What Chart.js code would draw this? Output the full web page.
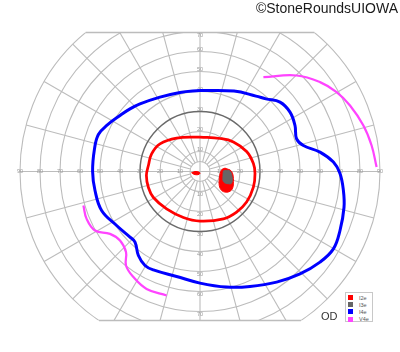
<!DOCTYPE html>
<html lang="en">
<head>
    <meta charset="UTF-8">
    <title>Goldmann visual field OD</title>
    <script src="https://cdn.jsdelivr.net/npm/chart.js@4.4.0/dist/chart.umd.min.js"></script>
    <style>
        * {
            margin: 0;
            padding: 0;
            box-sizing: border-box;
        }

        body {
            width: 400px;
            height: 352px;
            background: #fff;
            overflow: hidden;
            font-family: Arial, "Liberation Sans", sans-serif;
        }

        .wrap {
            position: relative;
            width: 400px;
            height: 352px;
        }

        .credit {
            position: absolute;
            right: 2px;
            top: 0px;
            font-size: 14px;
            line-height: 17px;
            color: #1a1a1a;
            white-space: nowrap;
        }

        .eye {
            position: absolute;
            left: 321px;
            top: 310px;
            font-size: 11px;
            line-height: 13px;
            color: #333;
        }

        /* Legend box */
        .legend {
            position: absolute;
            left: 345px;
            top: 292px;
            width: 28px;
            height: 30px;
            border: 1px solid #c8c8c8;
            background: #fff;
            padding: 1px 0 0 2px;
        }

        .legend-row {
            display: flex;
            align-items: center;
            height: 7.2px;
        }

        .legend-swatch {
            width: 5px;
            height: 5px;
            margin-right: 6px;
        }

        .legend-label {
            font-size: 5.5px;
            line-height: 6px;
            color: #555;
        }
    </style>
</head>
<body>
    <div class="wrap">
        <canvas id="fieldChart" width="400" height="352"></canvas>
        <div class="credit">©StoneRoundsUIOWA</div>
        <div class="eye">OD</div>
        <div class="legend" id="legend"></div>
    </div>

    <script>
        // Grid / tick values (degrees of visual field)
        const ringDegrees = [5, 10, 20, 30, 40, 50, 60, 70, 80, 90];
        const spokeAngles = [0, 15, 30, 45, 60, 75, 90, 105, 120, 135, 150, 165, 180, 195, 210, 225, 240, 255, 270, 285, 300, 315, 330, 345];
        const horizontalTicks = [10, 20, 30, 40, 50, 60, 70, 80, 90];
        const verticalTicks = [10, 20, 30, 40, 50, 60, 70];
        const fieldTop = 69.5;
        const fieldBottom = -74.5;

        // Isopters, [x, y] in degrees
        const i4eIsopter = [
            [0, 40.5], [17, 40.2], [28, 37.7], [33, 36.3], [40, 34.7], [45, 29.7], [47.5, 23],
            [48.3, 16.3], [51.7, 13], [60, 9.7], [66.7, 4.7], [70, -1], [71.7, -9.5], [72, -18],
            [70, -29.5], [66.7, -38.7], [60, -45.3], [50, -51.2], [38.3, -55.3], [25, -57.5],
            [13.3, -57.8], [0, -55.8], [-11.7, -52.5], [-23.3, -49.2], [-27.5, -47], [-30.8, -42],
            [-32.5, -35.3], [-35, -32.8], [-41.7, -27], [-49.2, -19.5], [-52.5, -9.5], [-53.7, 0],
            [-52.8, 11], [-50.8, 18.5], [-46.3, 23.3], [-40, 28], [-35, 31.3], [-30, 33.8],
            [-20, 37.2], [-10, 39.5], [0, 40.5]
        ];
        const i2eIsopter = [
            [0, 17.2], [10, 16.5], [16.7, 14.8], [23.3, 10], [26.7, 4], [27.5, -1], [26.7, -7.8],
            [23.3, -15.3], [18.3, -20.3], [11.7, -23.7], [0, -24.8], [-8.3, -23], [-16.7, -18.7],
            [-23.3, -13], [-25.8, -8], [-26.8, -2], [-25.8, 3], [-24.2, 8.8], [-20, 13.8],
            [-11.7, 16.7], [0, 17.2]
        ];
        const i2eScotoma = [
            [12.5, 1.7], [15.8, 0], [16.7, -5], [15.8, -9.2], [12.5, -10.3], [10, -8.3],
            [9.7, -3.3], [10.8, 0.8]
        ];
        const i3eScotoma = [
            [11.7, 0.3], [14.5, 0.5], [15.8, -1.5], [15.8, -5.8], [13.5, -6], [11.7, -5], [11.5, -2]
        ];
        const blindSpotI2e = [
            [-4.2, -0.6], [-2.5, 0], [-0.5, -0.3], [0, -0.9], [-1, -1.6], [-3, -1.4]
        ];
        const v4eUpper = [
            [31.7, 47.2], [48.3, 48], [60, 44.7], [68.3, 39.7], [75, 33], [81.7, 23],
            [85.8, 13], [88.3, 2.2]
        ];
        const v4eLower = [
            [-58.3, -17], [-56.7, -23.7], [-52.5, -29.5], [-45, -31.2], [-40, -34.5], [-37, -40.3],
            [-37, -47], [-33.3, -52.8], [-26.7, -58.7], [-16.7, -62]
        ];

        const legendSeries = [
            { label: 'I2e', color: '#ff0000' },
            { label: 'I3e', color: '#666666' },
            { label: 'I4e', color: '#0000ff' },
            { label: 'V4e', color: '#ff44ff' }
        ];

        const toPoints = arr => arr.map(p => ({ x: p[0], y: p[1] }));

        // Perimeter grid drawn from the scales
        const perimeterGrid = {
            id: 'perimeterGrid',
            beforeDatasetsDraw(chart) {
                const { ctx, scales: { x, y } } = chart;
                const cx = x.getPixelForValue(0);
                const cy = y.getPixelForValue(0);
                const rad = d => x.getPixelForValue(d) - cx;
                const top = y.getPixelForValue(fieldTop);
                const bottom = y.getPixelForValue(fieldBottom);
                const outer = rad(90);

                ctx.save();
                ctx.beginPath();
                ctx.rect(0, top, chart.width, bottom - top);
                ctx.clip();

                ctx.strokeStyle = '#bcbcbc';
                ctx.lineWidth = 1.1;
                ringDegrees.forEach(r => {
                    if (r === 30) return;
                    ctx.beginPath();
                    ctx.arc(cx, cy, rad(r), 0, Math.PI * 2);
                    ctx.stroke();
                });
                spokeAngles.forEach(a => {
                    const t = a * Math.PI / 180;
                    const inner = a % 90 === 0 ? 0 : rad(5);
                    ctx.beginPath();
                    ctx.moveTo(cx + inner * Math.cos(t), cy - inner * Math.sin(t));
                    ctx.lineTo(cx + outer * Math.cos(t), cy - outer * Math.sin(t));
                    ctx.stroke();
                });

                ctx.strokeStyle = '#6a6a6a';
                ctx.lineWidth = 1.5;
                ctx.beginPath();
                ctx.arc(cx, cy, rad(30), 0, Math.PI * 2);
                ctx.stroke();
                ctx.restore();

                // top and bottom edge of the field
                ctx.save();
                ctx.strokeStyle = '#bcbcbc';
                ctx.lineWidth = 1.5;
                [top, bottom].forEach(edge => {
                    const dy = edge - cy;
                    const half = Math.sqrt(outer * outer - dy * dy);
                    ctx.beginPath();
                    ctx.moveTo(cx - half, edge);
                    ctx.lineTo(cx + half, edge);
                    ctx.stroke();
                });

                // tick labels
                ctx.fillStyle = '#999';
                ctx.font = '5.5px Arial, "Liberation Sans", sans-serif';
                ctx.textAlign = 'center';
                ctx.textBaseline = 'middle';
                horizontalTicks.forEach(t => {
                    ctx.fillText(String(t), x.getPixelForValue(-t), cy);
                    ctx.fillText(String(t), x.getPixelForValue(t), cy);
                });
                verticalTicks.forEach(t => {
                    const up = Math.max(y.getPixelForValue(t) - 2.5, top + 3);
                    const down = y.getPixelForValue(-t) + 2.5;
                    ctx.fillText(String(t), cx, up);
                    ctx.fillText(String(t), cx, down);
                });
                ctx.restore();
            }
        };

        const lineSet = (label, data, color, width) => ({
            label: label,
            data: toPoints(data),
            showLine: true,
            borderColor: color,
            borderWidth: width,
            pointRadius: 0,
            tension: 0.4,
            fill: false
        });

        const shapeSet = (label, data, color) => ({
            label: label,
            data: toPoints(data.concat([data[0]])),
            showLine: true,
            borderColor: color,
            backgroundColor: color,
            borderWidth: 1,
            pointRadius: 0,
            tension: 0.4,
            fill: 'shape'
        });

        new Chart(document.getElementById('fieldChart'), {
            type: 'scatter',
            data: {
                datasets: [
                    shapeSet('I3e', i3eScotoma, '#666666'),
                    shapeSet('I2e', i2eScotoma, '#ff0000'),
                    shapeSet('I2e', blindSpotI2e, '#ff0000'),
                    lineSet('I2e', i2eIsopter, '#ff0000', 2.75),
                    lineSet('I4e', i4eIsopter, '#0000ff', 3),
                    lineSet('V4e', v4eUpper, '#ff44ff', 2.25),
                    lineSet('V4e', v4eLower, '#ff44ff', 2.25)
                ]
            },
            options: {
                responsive: false,
                animation: false,
                devicePixelRatio: 1,
                layout: { padding: 0 },
                plugins: {
                    legend: { display: false },
                    tooltip: { enabled: false }
                },
                scales: {
                    x: { type: 'linear', min: -100, max: 100, display: false },
                    y: { type: 'linear', min: -90.25, max: 85.75, display: false }
                }
            },
            plugins: [perimeterGrid]
        });

        // Legend
        const legend = document.getElementById('legend');
        legendSeries.forEach(s => {
            const row = document.createElement('div');
            row.className = 'legend-row';
            row.innerHTML = '<span class="legend-swatch" style="background:' + s.color + '"></span>' +
                '<span class="legend-label">' + s.label + '</span>';
            legend.appendChild(row);
        });
    </script>
</body>
</html>
